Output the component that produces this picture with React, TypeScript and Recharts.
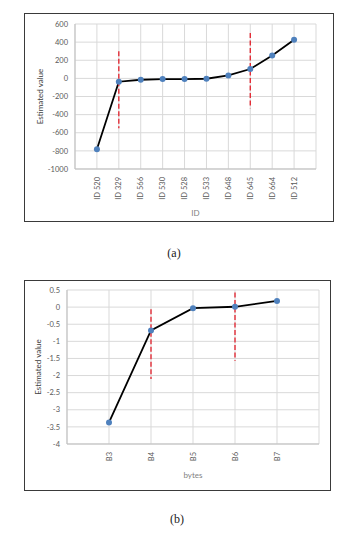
import React from "react";
import {
  LineChart,
  Line,
  XAxis,
  YAxis,
  CartesianGrid,
  ReferenceLine,
  Label,
} from "recharts";

// (a) estimated value per ID
const idLabels = ["ID 520", "ID 329", "ID 566", "ID 530", "ID 528", "ID 533", "ID 648", "ID 645", "ID 664", "ID 512"];
const idValues = [-782, -37, -15, -8, -8, -4, 33, 103, 253, 426];
const idTicks = [600, 400, 200, 0, -200, -400, -600, -800, -1000];
const idCuts = [
  { at: "ID 329", top: 300, bottom: -550 },
  { at: "ID 645", top: 500, bottom: -330 },
];

// (b) estimated value per byte
const byteLabels = ["B3", "B4", "B5", "B6", "B7"];
const byteValues = [-3.37, -0.68, -0.03, 0.01, 0.18];
const byteTicks = [0.5, 0, -0.5, -1, -1.5, -2, -2.5, -3, -3.5, -4];
const byteCuts = [
  { at: "B4", top: -0.06, bottom: -2.1 },
  { at: "B6", top: 0.43, bottom: -1.57 },
];

const FONT = "Lato, 'Open Sans', sans-serif";
const GRID = "#d9d9d9";
const DOT = "#4f81bd";
const CUT = "#e3202b";

function RotTick(props: any) {
  const { x, y, payload, labels } = props;
  const text = labels[payload.value - 1] ?? "";
  if (!text) return null;
  return (
    <text
      x={x}
      y={y}
      transform={`rotate(-90, ${x}, ${y})`}
      textAnchor="end"
      dy="0.35em"
      fontSize={7.5}
      fontFamily={FONT}
      fill="#595959"
    >
      {text}
    </text>
  );
}

function Frame({ left, top, width, height }: { left: number; top: number; width: number; height: number }) {
  return (
    <div
      style={{
        position: "absolute",
        left,
        top,
        width,
        height,
        border: "1px solid #3a3a3a",
        boxSizing: "border-box",
        pointerEvents: "none",
      }}
    />
  );
}

function Caption({ text, x, y }: { text: string; x: number; y: number }) {
  return (
    <div
      style={{
        position: "absolute",
        left: x - 20,
        top: y,
        width: 40,
        textAlign: "center",
        fontFamily: "'Liberation Serif', 'DejaVu Serif', serif",
        fontSize: 12,
        fontWeight: 400,
        color: "#222",
        lineHeight: "14px",
      }}
    >
      {text}
    </div>
  );
}

function Panel({
  labels,
  values,
  ticks,
  cuts,
  xTitle,
  left,
  top,
  width,
  height,
  margin,
  yWidth,
  xHeight,
  xTitleOffset,
}: any) {
  const rows = labels.map((l: string, i: number) => ({ x: i + 1, v: values[i] }));
  const xTicks = [0, ...labels.map((_: string, i: number) => i + 1), labels.length + 1];
  return (
    <div style={{ position: "absolute", left, top, width, height }}>
      <LineChart width={width} height={height} data={rows} margin={margin}>
        <CartesianGrid stroke={GRID} strokeWidth={1} />
        <XAxis
          dataKey="x"
          type="number"
          domain={[0, labels.length + 1]}
          ticks={xTicks}
          height={xHeight}
          axisLine={{ stroke: "#bfbfbf" }}
          tickLine={false}
          tickSize={0}
          tickMargin={8}
          tick={<RotTick labels={labels} />}
          interval={0}
        >
          <Label
            value={xTitle}
            position="insideBottom"
            offset={xTitleOffset}
            style={{ fontSize: 8, fontFamily: FONT, fill: "#7f7f7f" }}
          />
        </XAxis>
        <YAxis
          type="number"
          domain={[ticks[ticks.length - 1], ticks[0]]}
          ticks={ticks}
          width={yWidth}
          axisLine={{ stroke: "#bfbfbf" }}
          tickLine={false}
          tickSize={0}
          tickMargin={7}
          interval={0}
          tick={{ fontSize: 7.5, fontFamily: FONT, fill: "#595959" }}
        >
          <Label
            value="Estimated value"
            angle={-90}
            position="insideLeft"
            style={{ fontSize: 8, fontFamily: FONT, fill: "#404040", textAnchor: "middle" }}
          />
        </YAxis>
        <Line
          dataKey="v"
          type="linear"
          stroke="#000"
          strokeWidth={1.8}
          dot={{ r: 3, fill: DOT, stroke: DOT, strokeWidth: 0 }}
          isAnimationActive={false}
        />
        {cuts.map((c: any) => {
          const xi = labels.indexOf(c.at) + 1;
          return (
            <ReferenceLine
              key={c.at}
              segment={[
                { x: xi, y: c.top },
                { x: xi, y: c.bottom },
              ]}
              stroke={CUT}
              strokeWidth={1.3}
              strokeDasharray="5 2.5"
            />
          );
        })}
      </LineChart>
    </div>
  );
}

export default function App() {
  return (
    <div style={{ position: "absolute", left: 0, top: 0, width: 353, height: 538, background: "#fff" }}>
      <Panel
        labels={idLabels}
        values={idValues}
        ticks={idTicks}
        cuts={idCuts}
        xTitle="ID"
        left={24}
        top={13}
        width={310}
        height={209}
        margin={{ top: 11, right: 18, left: 11, bottom: 3 }}
        yWidth={40}
        xHeight={50}
        xTitleOffset={3}
      />
      <Frame left={24} top={13} width={310} height={209} />
      <Caption text="(a)" x={174} y={246} />

      <Panel
        labels={byteLabels}
        values={byteValues}
        ticks={byteTicks}
        cuts={byteCuts}
        xTitle="bytes"
        left={24}
        top={280}
        width={307}
        height={211}
        margin={{ top: 10, right: 12, left: 9, bottom: 3 }}
        yWidth={34}
        xHeight={44}
        xTitleOffset={10}
      />
      <Frame left={24} top={280} width={307} height={211} />
      <Caption text="(b)" x={177} y={512} />
    </div>
  );
}
